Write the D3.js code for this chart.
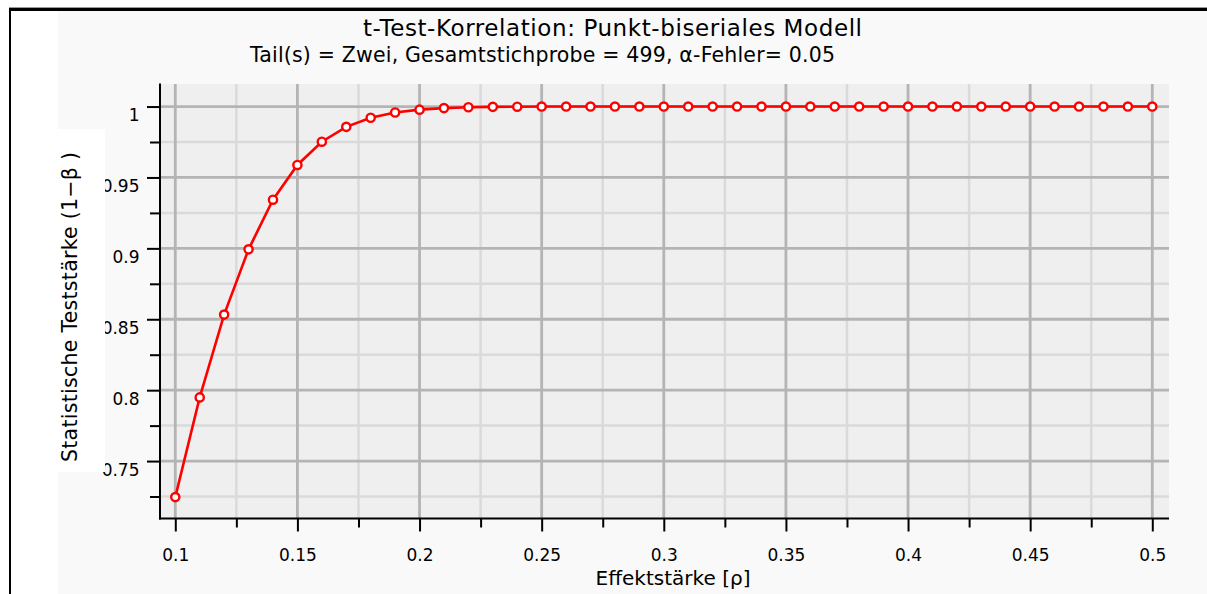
<!DOCTYPE html>
<html><head><meta charset="utf-8">
<script src="https://cdn.jsdelivr.net/npm/d3@7"></script>
<style>html,body{margin:0;padding:0;background:#fff;}svg{display:block;}</style>
</head><body>
<svg id="chart" width="1207" height="594"></svg>
<script>
// ---- data ----
const effectSizes = [0.10,0.11,0.12,0.13,0.14,0.15,0.16,0.17,0.18,0.19,0.20,0.21,0.22,0.23,0.24,0.25,0.26,0.27,0.28,0.29,0.30,0.31,0.32,0.33,0.34,0.35,0.36,0.37,0.38,0.39,0.40,0.41,0.42,0.43,0.44,0.45,0.46,0.47,0.48,0.49,0.50];
const powerValues = [0.7246,0.7949,0.8533,0.8993,0.9343,0.9588,0.9752,0.9857,0.9921,0.9958,0.9978,0.9989,0.9995,0.9998,0.9999,1,1,1,1,1,1,1,1,1,1,1,1,1,1,1,1,1,1,1,1,1,1,1,1,1,1];
const xMajorTicks = [0.1,0.15,0.2,0.25,0.3,0.35,0.4,0.45,0.5];
const xTickLabels = ["0.1","0.15","0.2","0.25","0.3","0.35","0.4","0.45","0.5"];
const xMinorTicks = [0.125,0.175,0.225,0.275,0.325,0.375,0.425,0.475];
const yMajorTicks = [0.75,0.8,0.85,0.9,0.95,1];
const yTickLabels = ["0.75","0.8","0.85","0.9","0.95","1"];
const yMinorTicks = [0.725,0.775,0.825,0.875,0.925,0.975];
const titleText = "t-Test-Korrelation: Punkt-biseriales Modell";
const subtitleText = "Tail(s) = Zwei, Gesamtstichprobe = 499, α-Fehler= 0.05";
const xTitle = "Effektstärke [ρ]";
const yTitle = "Statistische Teststärke  (1−β )";

// ---- layout ----
const FONT = "'DejaVu Sans', 'Lucida Grande', sans-serif";
const L = 160, R = 1169, T = 84, B = 518.5;
const svg = d3.select("#chart");
const x = d3.scaleLinear().domain([0.09374, 0.50684]).range([L, R]);
const y = d3.scaleLinear().domain([0.7095, 1.0159]).range([B, T]);

svg.append("rect").attr("x",0).attr("y",0).attr("width",1207).attr("height",594).attr("fill","#fff");
svg.append("rect").attr("x",58).attr("y",11).attr("width",1149).attr("height",583).attr("fill","#f9f9f9");
// frame
svg.append("rect").attr("x",9).attr("y",7).attr("width",1198).attr("height",1).attr("fill","#999");
svg.append("rect").attr("x",9).attr("y",8).attr("width",1198).attr("height",3).attr("fill","#000");
svg.append("rect").attr("x",9).attr("y",8).attr("width",2).attr("height",586).attr("fill","#000");

// plot background
svg.append("rect").attr("x",L).attr("y",T).attr("width",R-L).attr("height",B-T).attr("fill","#efefef");

// grid
const grid = svg.append("g");
grid.selectAll("line.xmin").data(xMinorTicks).join("line")
  .attr("x1",d=>x(d)).attr("x2",d=>x(d)).attr("y1",T).attr("y2",B)
  .attr("stroke","#dadada").attr("stroke-width",2.5);
grid.selectAll("line.ymin").data(yMinorTicks).join("line")
  .attr("y1",d=>y(d)).attr("y2",d=>y(d)).attr("x1",L).attr("x2",R)
  .attr("stroke","#dadada").attr("stroke-width",2.5);
grid.selectAll("line.xmaj").data(xMajorTicks).join("line")
  .attr("x1",d=>x(d)).attr("x2",d=>x(d)).attr("y1",T).attr("y2",B)
  .attr("stroke","#b4b4b4").attr("stroke-width",2.8);
grid.selectAll("line.ymaj").data(yMajorTicks).join("line")
  .attr("y1",d=>y(d)).attr("y2",d=>y(d)).attr("x1",L).attr("x2",R)
  .attr("stroke","#b4b4b4").attr("stroke-width",2.8);

// axes
function styleAxis(g){
  g.select(".domain").remove();
  g.selectAll(".tick line").attr("stroke","#000").attr("stroke-width",2);
  g.selectAll(".tick text").attr("fill","#000").style("font-family",FONT).style("font-size","17px");
}
const yAxisMinor = svg.append("g").attr("transform",`translate(${L},0)`)
  .call(d3.axisLeft(y).tickValues(yMinorTicks).tickSize(10).tickSizeOuter(0).tickFormat(""));
styleAxis(yAxisMinor);
const yAxis = svg.append("g").attr("transform",`translate(${L},0)`)
  .call(d3.axisLeft(y).tickValues(yMajorTicks).tickSize(13).tickSizeOuter(0).tickPadding(7.5)
    .tickFormat((d,i)=>yTickLabels[i]));
styleAxis(yAxis);
yAxis.selectAll(".tick text").attr("dy","14px");

const xAxisMinor = svg.append("g").attr("transform",`translate(0,${B})`)
  .call(d3.axisBottom(x).tickValues(xMinorTicks).tickSize(9).tickSizeOuter(0).tickFormat(""));
styleAxis(xAxisMinor);
const xAxis = svg.append("g").attr("transform",`translate(0,${B})`)
  .call(d3.axisBottom(x).tickValues(xMajorTicks).tickSize(13).tickSizeOuter(0)
    .tickFormat((d,i)=>xTickLabels[i]));
styleAxis(xAxis);
xAxis.selectAll(".tick text").attr("y",42.5).attr("dy",0);

// axis lines
svg.append("line").attr("x1",L).attr("x2",L).attr("y1",T-0.5).attr("y2",B+1).attr("stroke","#000").attr("stroke-width",2);
svg.append("line").attr("x1",L-1).attr("x2",R).attr("y1",B).attr("y2",B).attr("stroke","#000").attr("stroke-width",2);

// series
const pts = effectSizes.map((e,i)=>[e,powerValues[i]]);
svg.append("path").datum(pts)
  .attr("d", d3.line().x(d=>x(d[0])).y(d=>y(d[1])))
  .attr("fill","none").attr("stroke","#ff0000").attr("stroke-width",2.6);
svg.selectAll("circle.pt").data(pts).join("circle")
  .attr("cx",d=>x(d[0])).attr("cy",d=>y(d[1])).attr("r",4.1)
  .attr("fill","#fff").attr("stroke","#ff0000").attr("stroke-width",2.4);

// y title box (covers part of tick labels as in reference)
svg.append("rect").attr("x",58).attr("y",129).attr("width",47).attr("height",343).attr("fill","#fff");
svg.append("text").attr("transform","translate(77,307) rotate(-90)")
  .attr("text-anchor","middle").style("font-family",FONT).style("font-size","20.5px")
  .attr("textLength",310).attr("lengthAdjust","spacing").text(yTitle);

// titles
svg.append("text").attr("x",612.5).attr("y",36).attr("text-anchor","middle")
  .style("font-family",FONT).style("font-size","23px")
  .attr("textLength",499).attr("lengthAdjust","spacing").text(titleText);
svg.append("text").attr("x",542.5).attr("y",61.5).attr("text-anchor","middle")
  .style("font-family",FONT).style("font-size","20.5px")
  .attr("textLength",585).attr("lengthAdjust","spacing").text(subtitleText);
svg.append("text").attr("x",673).attr("y",585).attr("text-anchor","middle")
  .style("font-family",FONT).style("font-size","20px")
  .attr("textLength",155).attr("lengthAdjust","spacing").text(xTitle);
</script>
</body></html>
